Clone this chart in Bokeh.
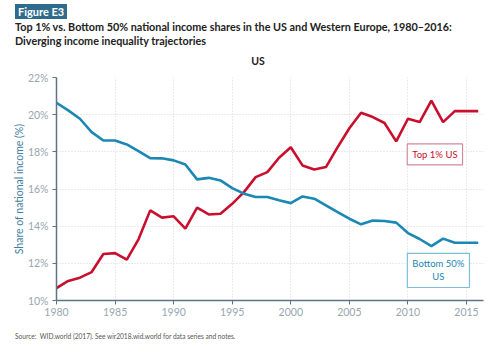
from bokeh.plotting import figure
from bokeh.models import Label, FixedTicker, PrintfTickFormatter, Range1d, Div
from bokeh.layouts import column
from bokeh.embed import file_html
from bokeh.resources import INLINE

years = list(range(1980, 2017))
top1 = [10.67, 11.05, 11.23, 11.53, 12.50, 12.55, 12.20, 13.29, 14.85, 14.46,
        14.53, 13.87, 15.00, 14.63, 14.67, 15.20, 15.83, 16.64, 16.91, 17.68,
        18.25, 17.27, 17.05, 17.18, 18.25, 19.27, 20.10, 19.87, 19.55, 18.56,
        19.78, 19.60, 20.76, 19.60, 20.19, 20.19, 20.19]
bottom50 = [20.64, 20.23, 19.78, 19.06, 18.61, 18.61, 18.40, 18.04, 17.66, 17.65,
            17.54, 17.32, 16.52, 16.60, 16.46, 16.05, 15.75, 15.57, 15.57, 15.39,
            15.24, 15.60, 15.48, 15.12, 14.76, 14.40, 14.10, 14.30, 14.28, 14.19,
            13.63, 13.31, 12.93, 13.33, 13.11, 13.11, 13.11]
x_ticks = [1980, 1985, 1990, 1995, 2000, 2005, 2010, 2015]
y_ticks = [10, 12, 14, 16, 18, 20, 22]

figure_tag = "Figure E3"
title_1 = "Top 1% vs. Bottom 50% national income shares in the US and Western Europe, 1980\u20132016:"
title_2 = "Diverging income inequality trajectories"
subtitle = "US"
source = "Source:&nbsp; WID.world (2017). See wir2018.wid.world for data series and notes."

RED = "#c8102e"
BLUE = "#1b87b5"
FONT = "Lato"

header_html = f"""
<div style="position:relative;width:500px;height:70px;font-family:Lato,sans-serif;">
  <div style="position:absolute;left:15px;top:4px;height:15px;line-height:15px;padding:0 3px;
              background:#2e6b8c;color:white;font-weight:bold;font-size:11px;">{figure_tag}</div>
  <div style="position:absolute;left:15px;top:20px;line-height:14px;color:#222;
              font-weight:bold;font-size:10.8px;white-space:nowrap;">{title_1}<br>{title_2}</div>
  <div style="position:absolute;left:0px;width:516px;top:54px;line-height:14px;text-align:center;
              color:#222;font-weight:bold;font-size:10.5px;">{subtitle}</div>
</div>
"""
header = Div(text=header_html, width=500, height=70, margin=0)

footer_html = f"""
<div style="position:relative;width:500px;height:20px;font-family:Lato,sans-serif;">
  <div style="position:absolute;left:15px;top:7px;line-height:10px;color:#555;
              font-size:6.6px;white-space:nowrap;">{source}</div>
</div>
"""
footer = Div(text=footer_html, width=500, height=20, margin=0)

p = figure(width=500, height=254, output_backend="svg", toolbar_location=None,
           x_range=Range1d(1980, 2016.45), y_range=Range1d(10, 22),
           min_border_left=56, min_border_right=17, min_border_top=7,
           min_border_bottom=24, margin=0)
p.outline_line_color = None
p.background_fill_color = "white"

p.line(years, top1, line_color=RED, line_width=2.6)
p.line(years, bottom50, line_color=BLUE, line_width=2.6)

for ax in (p.xaxis[0], p.yaxis[0]):
    ax.axis_line_color = "#5b7585"
    ax.axis_line_width = 1.5
    ax.major_tick_line_color = "#5b7585"
    ax.major_tick_in = 0
    ax.major_tick_out = 4
    ax.minor_tick_line_color = None
    ax.major_label_text_font = FONT
    ax.major_label_text_font_size = "10.5px"
    ax.major_label_text_color = "#98a6b0"
p.xaxis[0].major_label_standoff = 3
p.yaxis[0].major_label_standoff = 4

p.xaxis[0].ticker = FixedTicker(ticks=x_ticks)
p.yaxis[0].ticker = FixedTicker(ticks=y_ticks)
p.yaxis[0].formatter = PrintfTickFormatter(format="%d%%")
p.yaxis[0].axis_label = "Share of national income (%)"
p.yaxis[0].axis_label_text_font = FONT
p.yaxis[0].axis_label_text_font_style = "normal"
p.yaxis[0].axis_label_text_font_size = "10.5px"
p.yaxis[0].axis_label_text_color = "#3f7f9f"
p.yaxis[0].axis_label_standoff = 0

p.xgrid[0].ticker = FixedTicker(ticks=x_ticks)
p.ygrid[0].ticker = FixedTicker(ticks=y_ticks)
for g in (p.xgrid[0], p.ygrid[0]):
    g.grid_line_color = "#d6d6d6"
    g.grid_line_dash = "1 2"
    g.grid_line_width = 1

p.add_layout(Label(x=2012.3, y=17.86, text="Top 1% US", text_font=FONT,
                   text_font_size="9.5px", text_color=RED, text_align="center",
                   text_baseline="middle", border_line_color="#d08a98",
                   border_line_width=1.2, background_fill_color="white",
                   padding=5))
p.add_layout(Label(x=2012.6, y=11.62, text="Bottom 50%\nUS", text_font=FONT,
                   text_font_size="9.5px", text_color=BLUE, text_align="center",
                   text_baseline="middle", border_line_color="#7fbcd6",
                   border_line_width=1.2, background_fill_color="white",
                   padding=5))

layout = column(header, p, footer, spacing=0, margin=0)
open("out.html", "w").write(file_html(layout, INLINE))
